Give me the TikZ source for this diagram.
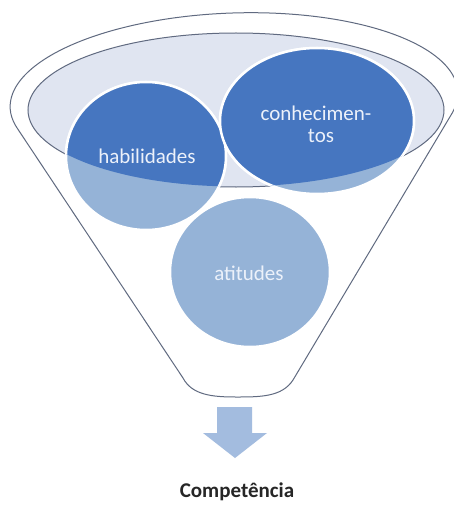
\documentclass[tikz,border=0pt]{standalone}
\usepackage{fontspec}
\setmainfont{Carlito}
\definecolor{outl}{RGB}{96,106,128}
\definecolor{innerc}{RGB}{224,229,241}
\definecolor{lightc}{RGB}{149,179,215}
\definecolor{darkc}{RGB}{70,118,192}
\definecolor{arrowc}{RGB}{163,188,223}
\definecolor{txtc}{RGB}{236,241,250}
\definecolor{captc}{RGB}{38,38,38}
\tikzset{
  funnel/.style={draw=outl, line width=1pt, fill=white},
  innerring/.style={draw=outl, line width=1pt, fill=innerc},
  lightball/.style={fill=lightc, draw=white, line width=2.5pt},
  darkball/.style={fill=darkc, draw=white, line width=2.5pt},
  balltext/.style={text=txtc, font=\fontsize{21}{21}\selectfont, align=center, inner sep=0pt},
  caption/.style={text=captc, font=\fontsize{21}{25}\selectfont\bfseries, inner sep=0pt}
}
\begin{document}
\begin{tikzpicture}[x=1pt,y=-1pt]
\useasboundingbox (0,0) rectangle (454,508);
\fill[white] (0,0) rectangle (454,508);
% funnel outline
\draw[funnel] plot[domain=194:-14, samples=80, smooth]
  ({234 + 224*cos(\x)*0.9994 - 87*sin(\x)*0.0349},
   {100 - 224*cos(\x)*0.0349 - 87*sin(\x)*0.9994})
  -- (293,380) .. controls (282,397) and (260,397) .. (236,397)
  .. controls (212,397) and (192,395) .. (183,378) -- cycle;
% inner ellipse
\draw[innerring] (236,110) ellipse [x radius=208, y radius=77];
% light balls
\path[lightball] (250,272) ellipse [x radius=80, y radius=75];
\path[lightball] (146,156) ellipse [x radius=80, y radius=74];
\path[lightball] (317,121) ellipse [x radius=97, y radius=73];
% dark parts inside the inner ellipse
\begin{scope}
  \clip (236,110) ellipse [x radius=207.5, y radius=76.5];
  \path[darkball] (250,272) ellipse [x radius=80, y radius=75];
  \path[darkball] (146,156) ellipse [x radius=80, y radius=74];
  \path[darkball] (317,121) ellipse [x radius=97, y radius=73];
\end{scope}
% texts
\node[balltext, anchor=base] (hab) at (147,163) {habilidades};
\node[balltext, anchor=base] (con1) at (316,121) {conhecimen-};
\node[balltext, anchor=base] (con2) at (321,142) {tos};
\node[balltext, anchor=base] (ati) at (249,280) {atitudes};
% arrow
\fill[arrowc] (217,407) -- (252,407) -- (252,433) -- (267,433) -- (235,458)
  -- (203,433) -- (217,433) -- cycle;
\node[caption, anchor=base] (comp) at (237,497) {Competência};
\end{tikzpicture}
\end{document}
